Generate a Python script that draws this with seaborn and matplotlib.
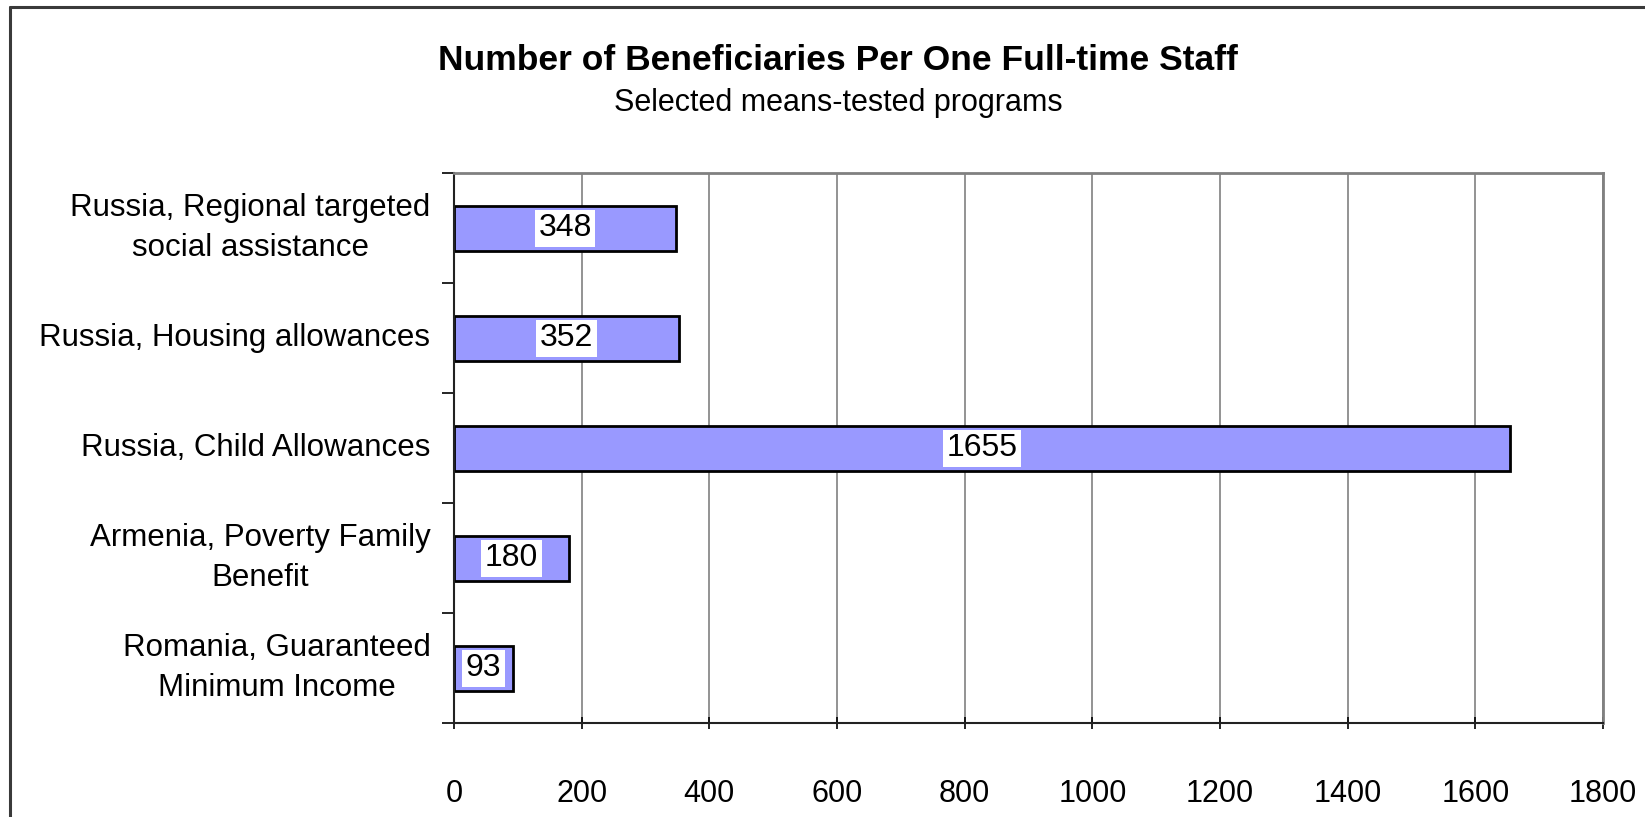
import numpy as np
import pandas as pd
import matplotlib
matplotlib.use("Agg")
import matplotlib.pyplot as plt
from matplotlib.lines import Line2D
import seaborn as sns

programs = [
    "Russia, Regional targeted\nsocial assistance",
    "Russia, Housing allowances",
    "Russia, Child Allowances",
    "Armenia, Poverty Family\nBenefit",
    "Romania, Guaranteed\nMinimum Income",
]
beneficiaries = [348, 352, 1655, 180, 93]
x_ticks = [0, 200, 400, 600, 800, 1000, 1200, 1400, 1600, 1800]

df = pd.DataFrame({"program": programs, "value": beneficiaries})

sns.set_style("white")
plt.rcParams["font.family"] = ["Liberation Sans", "DejaVu Sans"]
plt.rcParams["text.color"] = "black"

fig = plt.figure(figsize=(16.45, 8.17), dpi=100)
ax = fig.add_axes([0.276, 0.115, 0.6985, 0.673])

sns.barplot(data=df, y="program", x="value", ax=ax, orient="h",
            color="#9999FF", saturation=1, width=0.41,
            edgecolor="black", linewidth=2)

ax.set_xlim(0, 1800)
ax.set_ylim(4.5, -0.5)
ax.set_xticks(x_ticks)
ax.xaxis.grid(True, color="#808080", linewidth=1.2)
ax.set_axisbelow(True)
ax.set_xlabel("")
ax.set_ylabel("")

# category boundary ticks (Excel style)
ax.set_yticks(np.arange(-0.5, 5.0, 1.0), minor=True)
ax.tick_params(axis="y", which="major", left=True, length=0, pad=17,
               labelsize=22.5)
ax.tick_params(axis="y", which="minor", left=True, length=9, width=1.2,
               color="black", direction="out")
ax.tick_params(axis="x", which="major", bottom=True, length=9, width=1.2,
               color="black", direction="inout", pad=36, labelsize=22)
for lbl in ax.get_yticklabels():
    lbl.set_multialignment("center")
    lbl.set_linespacing(1.45)
    lbl.set_verticalalignment("center")
    lbl.set_color("black")
for lbl in ax.get_xticklabels():
    lbl.set_color("black")

for side in ["top", "right"]:
    ax.spines[side].set_visible(True)
    ax.spines[side].set_color("#808080")
    ax.spines[side].set_linewidth(2)
for side in ["left", "bottom"]:
    ax.spines[side].set_color("#222222")
    ax.spines[side].set_linewidth(1.5)

for i, v in enumerate(beneficiaries):
    ax.text(v / 2, i, str(v), ha="center", va="center", fontsize=23,
            color="black",
            bbox=dict(facecolor="white", edgecolor="none", pad=2.5))

fig.text(0.5095, 0.926, "Number of Beneficiaries Per One Full-time Staff",
         ha="center", va="center", fontsize=25.5, fontweight="bold",
         color="black")
fig.text(0.5095, 0.874, "Selected means-tested programs",
         ha="center", va="center", fontsize=22, color="black")

# outer chart frame
fig.add_artist(Line2D([0.0058, 0.0058], [0.0, 0.9915], transform=fig.transFigure,
                      color="#3a3a3a", linewidth=2.2))
fig.add_artist(Line2D([0.0058, 1.0], [0.9915, 0.9915], transform=fig.transFigure,
                      color="#3a3a3a", linewidth=2.2))

fig.savefig("out.png", dpi=100)
